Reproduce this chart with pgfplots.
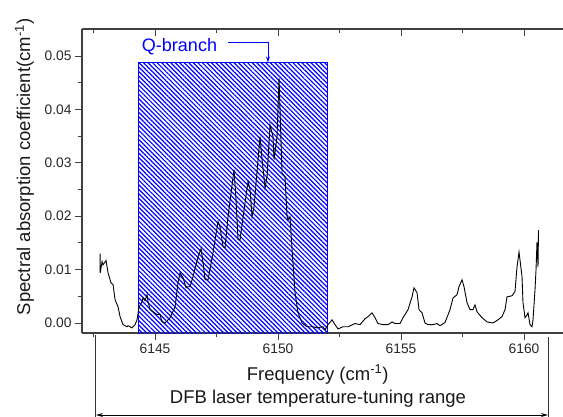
\documentclass[border=0pt]{standalone}
\usepackage{pgfplots}
\pgfplotsset{compat=1.18}
\usepackage{fontspec}
\setmainfont{Liberation Sans}
\usetikzlibrary{patterns.meta,arrows.meta}

\pgfplotstableread{
x y
6142.764 0.0130
6142.770 0.0094
6142.846 0.0115
6142.886 0.0109
6143.008 0.0117
6143.089 0.0094
6143.211 0.0075
6143.293 0.0072
6143.374 0.0044
6143.496 0.0030
6143.577 0.0012
6143.699 -0.0003
6143.862 -0.0007
6143.902 -0.0005
6144.065 -0.0009
6144.187 -0.0003
6144.268 0.0006
6144.350 0.0030
6144.472 0.0040
6144.512 0.0047
6144.593 0.0042
6144.675 0.0053
6144.715 0.0040
6144.797 0.0025
6144.919 0.0021
6145.081 0.0016
6145.203 0.0016
6145.285 0.0002
6145.407 0.0000
6145.610 0.0010
6145.813 0.0030
6145.935 0.0076
6146.016 0.0094
6146.138 0.0085
6146.260 0.0066
6146.301 0.0068
6146.423 0.0068
6146.545 0.0087
6146.748 0.0124
6146.870 0.0139
6146.951 0.0113
6147.033 0.0081
6147.154 0.0081
6147.358 0.0132
6147.561 0.0190
6147.642 0.0180
6147.764 0.0143
6147.846 0.0141
6147.967 0.0199
6148.211 0.0287
6148.293 0.0231
6148.374 0.0156
6148.455 0.0156
6148.618 0.0212
6148.780 0.0265
6148.862 0.0250
6148.943 0.0199
6149.024 0.0218
6149.268 0.0349
6149.350 0.0306
6149.472 0.0253
6149.553 0.0274
6149.675 0.0371
6149.797 0.0349
6149.837 0.0306
6149.959 0.0349
6150.041 0.0458
6150.081 0.0399
6150.163 0.0281
6150.285 0.0274
6150.366 0.0199
6150.407 0.0193
6150.488 0.0199
6150.569 0.0138
6150.691 0.0057
6150.813 0.0019
6150.976 0.0000
6151.179 -0.0007
6151.423 -0.0007
6151.585 -0.0009
6151.829 -0.0007
6151.911 -0.0013
6152.033 -0.0003
6152.195 0.0006
6152.317 -0.0003
6152.439 -0.0011
6152.642 -0.0007
6152.846 -0.0007
6153.130 -0.0001
6153.333 -0.0003
6153.537 0.0008
6153.659 0.0012
6153.821 0.0019
6153.943 0.0010
6154.065 -0.0001
6154.268 -0.0003
6154.472 -0.0003
6154.634 0.0002
6154.756 -0.0001
6154.959 -0.0001
6155.081 0.0010
6155.285 0.0025
6155.447 0.0049
6155.528 0.0066
6155.650 0.0057
6155.732 0.0025
6155.854 0.0019
6155.976 0.0000
6156.098 -0.0003
6156.301 -0.0003
6156.463 -0.0001
6156.585 -0.0005
6156.789 0.0001
6156.992 0.0025
6157.114 0.0047
6157.276 0.0053
6157.358 0.0068
6157.480 0.0081
6157.561 0.0068
6157.683 0.0038
6157.805 0.0025
6157.927 0.0025
6158.008 0.0034
6158.089 0.0021
6158.293 0.0010
6158.496 0.0002
6158.740 0.0000
6158.943 0.0006
6159.106 0.0012
6159.228 0.0025
6159.309 0.0049
6159.512 0.0051
6159.634 0.0059
6159.715 0.0105
6159.797 0.0133
6159.919 0.0087
6159.959 0.0038
6160.041 0.0010
6160.122 0.0015
6160.163 0.0019
6160.244 -0.0003
6160.325 -0.0007
6160.366 0.0006
6160.447 0.0062
6160.488 0.0099
6160.528 0.0152
6160.569 0.0105
6160.590 0.0174
}\spectrum

\begin{document}
\begin{tikzpicture}
\path[use as bounding box] (-82bp,-84bp) rectangle (481bp,333bp);
% top axis with inward ticks
\begin{axis}[
  at={(0,0)}, anchor=south west,
  scale only axis, width=481bp, height=304bp,
  xmin=6142.03, xmax=6161.585, ymin=-0.00187, ymax=0.05506,
  axis x line*=top, axis y line=none,
  axis line style={black!75, line width=1.1bp, -},
  tick style={black!75, line width=1bp},
  tick align=inside,
  major tick length=7bp, minor tick length=4bp,
  xtick={6145,6150,6155,6160}, xticklabels={},
  minor xtick={6142.5,6147.5,6152.5,6157.5},
]
\addplot[draw=none] coordinates {(6150,0)};
\end{axis}
% main axis
\begin{axis}[
  at={(0,0)}, anchor=south west,
  scale only axis, width=481bp, height=304bp,
  xmin=6142.03, xmax=6161.585, ymin=-0.00187, ymax=0.05506,
  clip=false,
  axis x line*=bottom, axis y line*=left,
  axis line style={black!75, line width=1.1bp, -},
  tick style={black!75, line width=1bp},
  tick align=outside,
  major tick length=7bp, minor tick length=4bp,
  xtick={6145,6150,6155,6160}, xticklabels={6145,6150,6155,6160},
  minor xtick={6142.5,6147.5,6152.5,6157.5},
  ytick={0,0.01,0.02,0.03,0.04,0.05},
  minor ytick={0.005,0.015,0.025,0.035,0.045},
  scaled y ticks=false,
  /pgf/number format/assume math mode=true,
  yticklabel style={/pgf/number format/fixed, /pgf/number format/fixed zerofill, /pgf/number format/precision=2},
  tick label style={font=\fontsize{13.8bp}{16bp}\selectfont, text=black!85},
  xlabel={Frequency (cm\textsuperscript{-1})},
  xlabel style={at={(axis description cs:0.49,-0.1546)}, anchor=base, font=\fontsize{18.5bp}{22bp}\selectfont, text=black!90},
  ylabel={Spectral absorption coefficient(cm\textsuperscript{-1})},
  ylabel style={at={(axis description cs:-0.1081,0.546)}, anchor=base, rotate=0, font=\fontsize{18.5bp}{22bp}\selectfont, text=black!90},
]
\fill[pattern={Lines[angle=-45,distance=3.2bp,line width=1.2bp]}, pattern color=blue]
  (axis cs:6144.31,-0.00187) rectangle (axis cs:6152.02,0.0487);
\draw[blue, line width=1bp] (axis cs:6144.31,-0.00187) -- (axis cs:6144.31,0.0487) -- (axis cs:6152.02,0.0487) -- (axis cs:6152.02,-0.00187);
\addplot[black, line width=0.9bp] table[x=x,y=y] {\spectrum};
\node[text=blue, font=\fontsize{18bp}{22bp}\selectfont, anchor=center] at (axis cs:6145.994,0.05169) {Q-branch};
\draw[blue, line width=0.8bp, -{Stealth[length=6bp,width=4bp]}] (axis cs:6147.966,0.05263) -- (axis cs:6149.592,0.05263) -- (axis cs:6149.592,0.0488);
\end{axis}
% tuning-range bracket
\draw[black!80, line width=1bp] (13bp,-2bp) -- (13bp,-84bp);
\draw[black!80, line width=1bp] (466bp,-4bp) -- (466bp,-84bp);
\draw[black, line width=1bp, {Stealth[length=7bp,width=4bp]}-{Stealth[length=7bp,width=4bp]}] (14bp,-82bp) -- (466bp,-82bp);
\node[anchor=base, font=\fontsize{18.5bp}{22bp}\selectfont, text=black!90] at (236bp,-70bp) {DFB laser temperature-tuning range};
\end{tikzpicture}
\end{document}
